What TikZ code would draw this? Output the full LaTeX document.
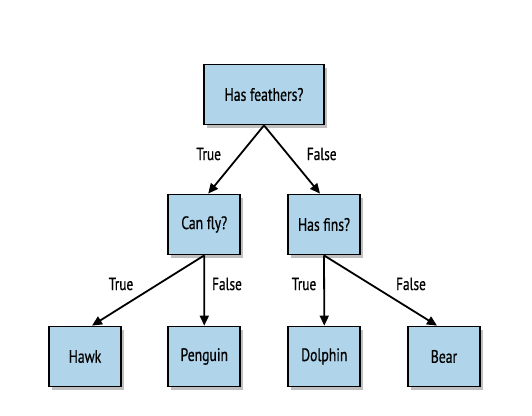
\documentclass[tikz,border=0pt]{standalone}
\usepackage{fontspec}
\setmainfont{PT Sans}[FakeStretch=0.76, FakeBold=0.6]
\usetikzlibrary{arrows.meta,shadows}
\definecolor{boxblue}{RGB}{176,212,234}
\tikzset{
  box/.style={draw=black, line width=1.8pt, fill=boxblue, minimum width=72pt, minimum height=60pt, inner sep=0pt,
    font=\fontsize{18}{20}\selectfont,
    drop shadow={shadow xshift=2.5pt, shadow yshift=-3pt, fill=black, opacity=0.25}},
  conn/.style={line width=1.8pt, -{Triangle[length=10pt,width=9pt]}},
  lbl/.style={font=\fontsize{17.5}{19}\selectfont}
}
\begin{document}
\begin{tikzpicture}[x=1pt,y=-1pt]
\useasboundingbox (0,0) rectangle (532,415);
\node[box, minimum width=120pt] (root) at (264,94.5) {Has feathers?};
\node[box] (fly) at (204.2,224.5) {Can fly?};
\node[box] (fins) at (324,224.5) {Has fins?};
\node[box] (hawk) at (85,356.5) {Hawk};
\node[box] (penguin) at (204.3,356.5) {Penguin};
\node[box] (dolphin) at (324.3,356.5) {Dolphin};
\node[box] (bear) at (444,356.5) {Bear};
\draw[conn] (root.south) -- ([xshift=4pt]fly.north);
\draw[conn] (root.south) -- ([xshift=-4pt]fins.north);
\draw[conn] (fly.south) -- ([xshift=7pt]hawk.north);
\draw[conn] (fly.south) -- (penguin.north);
\draw[conn] (fins.south) -- (dolphin.north);
\draw[conn] (fins.south) -- ([xshift=-7pt]bear.north);
\node[lbl] (l1) at (208.7,154) {True};
\node[lbl] (l2) at (321.7,154) {False};
\node[lbl] (l3) at (121,284) {True};
\node[lbl] (l4) at (227,284) {False};
\node[lbl] (l5) at (304,284) {True};
\node[lbl] (l6) at (411,284) {False};
\end{tikzpicture}
\end{document}
